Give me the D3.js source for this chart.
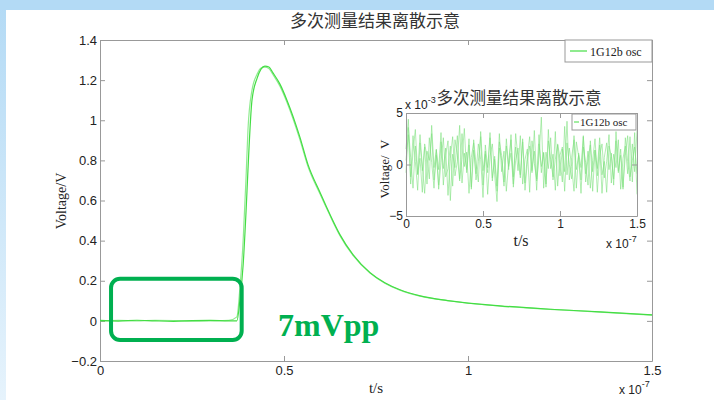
<!DOCTYPE html>
<html>
<head>
<meta charset="utf-8">
<script src="https://cdn.jsdelivr.net/npm/d3@7"></script>
<style>
  body { margin: 0; background: #fff; }
  .tick text { font-family: "Liberation Sans", Arial, sans-serif; fill: #222; }
</style>
</head>
<body>
<div id="chart"></div>
<script>
// main trace, time in units of 1e-7 s, voltage in V
var mainT = [0, 0.05, 0.1, 0.15, 0.2, 0.25, 0.3, 0.35, 0.372, 0.380, 0.389, 0.397, 0.402, 0.413, 0.427, 0.4375, 0.448,
             0.459, 0.470, 0.489, 0.508, 0.543, 0.565, 0.598, 0.625, 0.652, 0.6875, 0.734, 0.774, 0.815, 0.870,
             0.951, 1.087, 1.223, 1.359, 1.5];
var mainV1 = [0.002, -0.001, 0.003, 0.0, -0.002, 0.001, 0.002, 0.0, 0.0, 0.10, 0.28, 0.55, 0.75, 1.10, 1.21, 1.255, 1.27,
              1.265, 1.236, 1.18, 1.10, 0.917, 0.78, 0.64, 0.53, 0.43, 0.33, 0.24, 0.19, 0.155, 0.125,
              0.10, 0.075, 0.058, 0.045, 0.03];
// second measurement, slightly offset on the rising edge
var mainV2 = [-0.001, 0.002, 0.0, 0.002, 0.001, -0.001, 0.0, 0.002, 0.02, 0.16, 0.40, 0.72, 0.95, 1.15, 1.23, 1.26, 1.265,
              1.258, 1.228, 1.17, 1.09, 0.905, 0.77, 0.632, 0.525, 0.425, 0.326, 0.238, 0.188, 0.153, 0.123,
              0.099, 0.074, 0.057, 0.044, 0.029];

// inset noise traces, voltage in mV (x 10^-3 V), evenly spaced over 0..1.5e-7 s
var noiseA = [1.5, 4.4, -1.2, 2.8, 0.3, -2.5, 2.1, -0.6, 1.7, -1.9,
              2.6, 0.2, -2.3, 1.4, -0.5, 3.1, -2.0, 0.9, 2.3, -3.5,
              1.0, -0.3, 2.8, -1.4, 0.5, 3.5, -0.8, 1.9, -2.2, 2.4,
              0.1, -1.7, 3.2, -0.6, 1.3, -2.9, 0.8, 2.0, -1.0, -3.6,
              1.6, 0.4, -2.1, 2.5, -0.2, 1.1, -1.9, 3.0, 0.6, -1.3,
              2.2, -2.5, 0.3, 1.8, -0.8, 3.3, -1.6, 0.7, 4.6, -2.3,
              1.2, -0.4, 2.6, -1.5, 0.5, 1.9, -1.1, 1.5, -2.6, 2.1,
              0.0, -1.4, 2.8, -0.5, 0.9, -2.8, 1.7, 0.2, -2.0, 2.3,
              -0.7, 1.4, -2.7, 0.8, 2.0, -1.3, 0.3, 2.9, -1.8, 1.0,
              -0.3, 2.4, -2.4, 0.6, 1.8, -0.9, 2.7, -1.7, 3.1, -2.9];
var noiseB = [-0.8, 3.6, 0.7, -2.3, 1.8, -1.0, 2.9, -0.2, -2.8, 1.3,
              0.4, 3.0, -1.5, 0.9, -2.0, 2.2, -0.4, 1.6, -3.0, 0.6,
              2.7, -1.1, 0.3, 3.8, -1.8, 1.1, -0.5, 2.5, -2.4, 1.4,
              -0.9, 2.0, 0.5, -3.2, 1.9, -0.3, 2.6, -1.6, 0.8, -2.1,
              3.0, -0.7, 1.3, -2.6, 0.2, 2.4, -1.2, 1.7, -0.6, 2.8,
              -1.9, 0.5, 1.5, -2.7, 2.3, 0.1, -1.4, 2.9, -0.8, 1.2,
              -2.2, 3.4, -0.4, 1.0, -2.5, 2.0, 0.6, -1.7, 3.7, -1.0,
              1.6, -0.2, -2.6, 2.2, 0.8, -1.5, 2.7, -0.9, 1.3, -2.3,
              0.4, 2.5, -1.1, 1.9, -2.8, 0.7, 2.1, -0.5, 1.1, -2.0,
              3.2, -0.6, 0.9, -2.4, 2.6, 0.3, -1.6, 2.0, -0.7, 3.3];
var noiseC = [0.4, 2.9, -1.9, 1.2, 3.4, -0.9, 0.6, -2.7, 2.0, 0.8,
              -1.4, 3.8, -0.3, 1.5, -2.4, 0.2, 2.6, -1.2, -0.4, 1.8,
              -2.1, 2.4, 0.9, -1.6, 3.0, -0.2, 1.2, -2.8, 0.7, 2.1,
              -1.5, 0.3, 2.7, -2.0, 1.0, -0.8, 3.1, -1.3, 0.5, -2.6,
              2.2, 0.9, -1.7, 1.8, -0.5, 2.9, -2.2, 0.4, 1.6, -1.0,
              2.5, -1.8, 0.8, 2.7, -0.6, 1.3, -2.5, 2.0, -0.2, 1.1,
              -1.9, 2.3, 0.5, -1.2, 3.2, -2.1, 0.9, 1.7, -0.7, 4.2,
              -1.5, 0.7, 2.4, -2.3, 1.1, -0.3, 2.8, -1.7, 0.6, 1.9,
              -2.6, 1.4, -0.4, 2.6, -1.0, 0.3, -2.7, 1.8, 0.8, -1.4,
              2.3, -0.8, 1.5, -2.2, 0.9, 2.8, -1.2, 0.4, 1.7, -0.9];

var mainXTicks = [0, 0.5, 1, 1.5];
var mainYTicks = [-0.2, 0, 0.2, 0.4, 0.6, 0.8, 1, 1.2, 1.4];
var insetXTicks = [0, 0.5, 1, 1.5];
var insetYTicks = [-5, 0, 5];
var titleText = "多次测量结果离散示意";
var legendText = "1G12b osc";
// highlighted baseline region (t, V) and its note
var boxT = [0.03, 0.385], boxV = [-0.095, 0.21];
var noteText = "7mVpp";

var width = 714, height = 400;
var green = "#44dd44", mark = "#00b050", axisGrey = "#999";

var svg = d3.select("#chart").append("svg")
    .attr("width", width).attr("height", height);

// slide frame: blue band on top, fading strip on the left
var defs = svg.append("defs");
var grad = defs.append("linearGradient").attr("id", "side")
    .attr("x1", 0).attr("y1", 0).attr("x2", 0).attr("y2", 1);
grad.append("stop").attr("offset", "0%").attr("stop-color", "#b3daf5");
grad.append("stop").attr("offset", "100%").attr("stop-color", "#e6f3fc");
svg.append("rect").attr("width", width).attr("height", height).attr("fill", "#fff");
svg.append("rect").attr("width", 6).attr("height", height).attr("fill", "url(#side)");
svg.append("rect").attr("width", width).attr("height", 10).attr("fill", "#b3daf5");

// draw a matlab style box with inward ticks
function boxAxes(g, x, y, xt, yt, fmtX, fmtY, size, padX) {
  var r = x.range(), d = y.range();
  g.append("g").attr("transform", "translate(0," + d[0] + ")")
    .call(d3.axisBottom(x).tickValues(xt).tickFormat(fmtX).tickSizeInner(-5).tickSizeOuter(0).tickPadding(padX));
  g.append("g").attr("transform", "translate(0," + d[1] + ")")
    .call(d3.axisTop(x).tickValues(xt).tickFormat("").tickSizeInner(-5).tickSizeOuter(0));
  g.append("g").attr("transform", "translate(" + r[0] + ",0)")
    .call(d3.axisLeft(y).tickValues(yt).tickFormat(fmtY).tickSizeInner(-5).tickSizeOuter(0).tickPadding(3));
  g.append("g").attr("transform", "translate(" + r[1] + ",0)")
    .call(d3.axisRight(y).tickValues(yt).tickFormat("").tickSizeInner(-5).tickSizeOuter(0));
  g.selectAll(".domain, .tick line").attr("stroke", axisGrey);
  g.selectAll(".tick text").style("font-size", size + "px");
}

// ---------- main plot ----------
var x = d3.scaleLinear().domain([0, 1.5]).range([100, 652]);
var y = d3.scaleLinear().domain([-0.2, 1.4]).range([361, 40]);
var main = svg.append("g");
boxAxes(main, x, y, mainXTicks, mainYTicks, d3.format("~g"), d3.format("~g"), 13, 5);

var line = d3.line().x(function(d) { return x(d[0]); }).y(function(d) { return y(d[1]); })
    .curve(d3.curveMonotoneX);
[mainV2, mainV1].forEach(function(vals, k) {
  main.append("path")
    .datum(mainT.map(function(t, i) { return [t, vals[i]]; }))
    .attr("fill", "none").attr("stroke", green)
    .attr("stroke-width", 1.2).attr("opacity", k === 0 ? 0.6 : 1)
    .attr("d", line);
});

svg.append("text").attr("x", 375).attr("y", 27).attr("text-anchor", "middle")
  .style("font-family", "'Noto Sans CJK SC'").style("font-size", "17px").attr("fill", "#333")
  .text(titleText);
svg.append("text").attr("transform", "translate(66,201) rotate(-90)").attr("text-anchor", "middle")
  .style("font-family", "'Liberation Serif'").style("font-size", "14px").attr("fill", "#222")
  .text("Voltage/V");
svg.append("text").attr("x", 376).attr("y", 393).attr("text-anchor", "middle")
  .style("font-family", "'Liberation Serif'").style("font-size", "15px").attr("fill", "#222")
  .text("t/s");
var ex = svg.append("text").attr("x", 619).attr("y", 394)
  .style("font-family", "'Liberation Sans'").style("font-size", "12px").attr("fill", "#222");
ex.append("tspan").text("x 10");
ex.append("tspan").attr("dy", -7).style("font-size", "9px").text("-7");

// main legend
var lg = svg.append("g");
lg.append("rect").attr("x", 565).attr("y", 40).attr("width", 87).attr("height", 22)
  .attr("fill", "#fff").attr("stroke", axisGrey);
lg.append("line").attr("x1", 570).attr("x2", 587).attr("y1", 51).attr("y2", 51)
  .attr("stroke", green).attr("stroke-width", 1.2);
lg.append("text").attr("x", 590).attr("y", 56)
  .style("font-family", "'Liberation Serif'").style("font-size", "12px").attr("fill", "#222")
  .text(legendText);

// highlight box and note
svg.append("rect")
  .attr("x", x(boxT[0])).attr("y", y(boxV[1]))
  .attr("width", x(boxT[1]) - x(boxT[0])).attr("height", y(boxV[0]) - y(boxV[1]))
  .attr("rx", 9).attr("fill", "none").attr("stroke", mark).attr("stroke-width", 4);
svg.append("text").attr("x", 278).attr("y", 336)
  .style("font-family", "'Liberation Serif'").style("font-weight", "bold").style("font-size", "32px")
  .attr("fill", mark).text(noteText);

// ---------- inset ----------
var xi = d3.scaleLinear().domain([0, 1.5]).range([406, 637]);
var yi = d3.scaleLinear().domain([-5, 5]).range([216, 113]);
var inset = svg.append("g");
inset.append("rect").attr("x", 406).attr("y", 113).attr("width", 231).attr("height", 103).attr("fill", "#fff");

var iline = d3.line().x(function(d) { return xi(d[0]); }).y(function(d) { return yi(d[1]); });
[noiseA, noiseB, noiseC].forEach(function(vals) {
  inset.append("path")
    .datum(vals.map(function(v, i) { return [i * 1.5 / (vals.length - 1), v]; }))
    .attr("fill", "none").attr("stroke", "#7fe07f").attr("stroke-width", 0.8).attr("opacity", 0.75)
    .attr("d", iline);
});
boxAxes(inset, xi, yi, insetXTicks, insetYTicks, d3.format("~g"), d3.format("~g"), 12, 3);

inset.append("text").attr("x", 519).attr("y", 104).attr("text-anchor", "middle")
  .style("font-family", "'Noto Sans CJK SC'").style("font-size", "16.5px").attr("fill", "#333")
  .text(titleText);
var ey = inset.append("text").attr("x", 405).attr("y", 109)
  .style("font-family", "'Liberation Sans'").style("font-size", "12px").attr("fill", "#222");
ey.append("tspan").text("x 10");
ey.append("tspan").attr("dy", -6).style("font-size", "9px").text("-3");
inset.append("text").attr("transform", "translate(389,169) rotate(-90)").attr("text-anchor", "middle")
  .style("font-family", "'Liberation Serif'").style("font-size", "13px").attr("fill", "#222")
  .attr("xml:space", "preserve").text("Voltage/  V");
inset.append("text").attr("x", 521).attr("y", 246).attr("text-anchor", "middle")
  .style("font-family", "'Liberation Serif'").style("font-size", "16px").attr("fill", "#222")
  .text("t/s");
var ex2 = inset.append("text").attr("x", 606).attr("y", 248)
  .style("font-family", "'Liberation Sans'").style("font-size", "12px").attr("fill", "#222");
ex2.append("tspan").text("x 10");
ex2.append("tspan").attr("dy", -6).style("font-size", "9px").text("-7");

var ilg = inset.append("g");
ilg.append("rect").attr("x", 572).attr("y", 114).attr("width", 64).attr("height", 16)
  .attr("fill", "#fff").attr("stroke", axisGrey);
ilg.append("line").attr("x1", 574).attr("x2", 579).attr("y1", 122).attr("y2", 122)
  .attr("stroke", green);
ilg.append("text").attr("x", 580).attr("y", 126)
  .style("font-family", "'Liberation Serif'").style("font-size", "11px").attr("fill", "#222")
  .text(legendText);
</script>
</body>
</html>
